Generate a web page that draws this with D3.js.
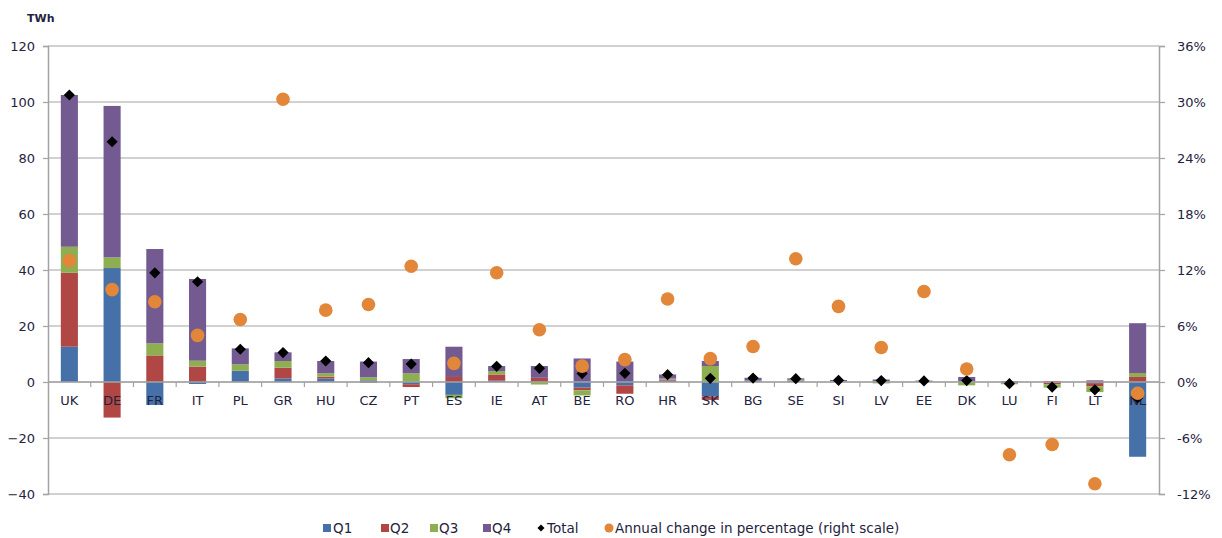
<!DOCTYPE html>
<html>
<head>
<meta charset="utf-8">
<script src="https://cdn.jsdelivr.net/npm/d3@7"></script>
<style>
  html, body { margin: 0; padding: 0; background: #ffffff; }
  svg { display: block; font-family: "DejaVu Sans", Verdana, sans-serif; }
</style>
</head>
<body>
<svg id="chart" width="1222" height="538"></svg>
<script>
// Countries along the category axis
const countries = ["UK","DE","FR","IT","PL","GR","HU","CZ","PT","ES","IE","AT","BE","RO","HR","SK","BG","SE","SI","LV","EE","DK","LU","FI","LT","NL"];

// Quarterly contributions (TWh)
const q1 = [12.6, 40.7, -8.2, -0.7, 4.0, 1.3, 1.2, 0.6, -0.8, -4.6, 0.5, 0.3, -2.0, -1.2, 0.5, -5.2, 0.3, 0.3, 0.1, 0.2, 0.1, 0.2, -0.5, -0.2, -0.4, -26.7];
const q2 = [26.4, -12.7, 9.5, 5.5, 0.0, 3.8, 0.7, -0.3, -1.0, 1.8, 2.2, 1.2, -1.0, -3.0, 0.4, -1.2, 0.0, 0.2, 0.1, 0.1, 0.1, 0.1, -0.1, -0.6, -1.2, 1.8];
const q3 = [9.3, 3.8, 4.3, 2.1, 2.3, 2.4, 1.2, 1.1, 3.1, -1.2, 1.2, -0.9, -1.8, 0.0, 0.3, 5.7, 0.2, 0.3, 0.1, -0.5, 0.1, -1.2, -0.2, -1.2, -2.0, 1.4];
const q4 = [54.2, 54.1, 33.7, 29.2, 5.7, 3.1, 4.4, 5.6, 5.1, 10.8, 1.8, 4.2, 8.4, 7.3, 1.5, 1.8, 1.0, 0.5, 0.4, 0.6, 0.2, 1.5, 0.3, 0.3, 0.6, 17.8];

// Annual totals (TWh)
const total = [102.5, 85.8, 39.0, 35.8, 11.7, 10.5, 7.5, 6.9, 6.4, 6.8, 5.6, 4.9, 3.0, 3.1, 2.6, 1.3, 1.4, 1.2, 0.6, 0.5, 0.4, 0.5, -0.6, -1.8, -2.8, -5.7];

// Annual change in percentage (right scale)
const annualPct = [13.0, 9.9, 8.6, 5.0, 6.7, 30.3, 7.7, 8.3, 12.4, 2.0, 11.7, 5.6, 1.7, 2.4, 8.9, 2.5, 3.8, 13.2, 8.1, 3.7, 9.7, 1.4, -7.8, -6.7, -10.9, -1.2];

// Axis ticks
const leftTicks = [-40, -20, 0, 20, 40, 60, 80, 100, 120];
const rightTicks = [-12, -6, 0, 6, 12, 18, 24, 30, 36];

const quarterNames = ["Q1", "Q2", "Q3", "Q4"];
const quarterColors = ["#4671a8", "#b04745", "#8eae52", "#735b92"];
const dotColor = "#e2873a";
const inkColor = "#1f2340";
const gridColor = "#a3a3a3";
const fontStack = "\"DejaVu Sans\", Verdana, sans-serif";

const svg = d3.select("#chart");

const plot = { left: 48, right: 1159, top: 46, bottom: 494 };

const x = d3.scaleBand()
  .domain(countries)
  .range([plot.left, plot.right])
  .paddingInner(0.6)
  .paddingOuter(0.3);

const xBand = d3.scaleBand()
  .domain(countries)
  .range([plot.left, plot.right]);

const y = d3.scaleLinear().domain([-40, 120]).range([plot.bottom, plot.top]);
const yRight = d3.scaleLinear().domain([-12, 36]).range([plot.bottom, plot.top]);

// Horizontal gridlines
svg.append("g")
  .selectAll("line")
  .data(leftTicks)
  .join("line")
  .attr("x1", plot.left)
  .attr("x2", plot.right)
  .attr("y1", d => y(d))
  .attr("y2", d => y(d))
  .attr("stroke", gridColor)
  .attr("stroke-width", 1.2);

// Stacked quarterly bars (positives upward, negatives downward)
const rows = countries.map((c, i) => ({ country: c, Q1: q1[i], Q2: q2[i], Q3: q3[i], Q4: q4[i] }));
const stacked = d3.stack()
  .keys(quarterNames)
  .offset(d3.stackOffsetDiverging)(rows);

svg.append("g")
  .selectAll("g")
  .data(stacked)
  .join("g")
  .attr("fill", (d, i) => quarterColors[i])
  .selectAll("rect")
  .data(d => d)
  .join("rect")
  .attr("x", d => x(d.data.country))
  .attr("width", x.bandwidth())
  .attr("y", d => y(Math.max(d[0], d[1])))
  .attr("height", d => Math.abs(y(d[0]) - y(d[1])));

// Left axis
const leftAxis = svg.append("g")
  .attr("transform", `translate(${plot.left},0)`)
  .call(d3.axisLeft(y).tickValues(leftTicks).tickSize(5).tickPadding(8).tickFormat(d3.format("d")));
leftAxis.select(".domain").attr("stroke", gridColor).attr("stroke-width", 1.5);
leftAxis.selectAll(".tick line").attr("stroke", gridColor).attr("stroke-width", 1.2);
leftAxis.selectAll(".tick text")
  .attr("fill", inkColor)
  .style("font-size", "13px")
  .style("font-family", fontStack);

// Right axis
const rightAxis = svg.append("g")
  .attr("transform", `translate(${plot.right},0)`)
  .call(d3.axisRight(yRight).tickValues(rightTicks).tickSize(6).tickPadding(12).tickFormat(d => d + "%"));
rightAxis.select(".domain").attr("stroke", gridColor).attr("stroke-width", 1.5);
rightAxis.selectAll(".tick line").attr("stroke", gridColor).attr("stroke-width", 1.2);
rightAxis.selectAll(".tick text")
  .attr("fill", inkColor)
  .style("font-size", "13px")
  .style("font-family", fontStack);

// Category axis on the zero line, tick marks between categories
const zeroY = y(0);
svg.append("line")
  .attr("x1", plot.left).attr("x2", plot.right)
  .attr("y1", zeroY).attr("y2", zeroY)
  .attr("stroke", gridColor).attr("stroke-width", 1.5);

svg.append("g")
  .selectAll("line")
  .data(countries.slice(1))
  .join("line")
  .attr("x1", d => xBand(d))
  .attr("x2", d => xBand(d))
  .attr("y1", zeroY)
  .attr("y2", zeroY + 5)
  .attr("stroke", gridColor)
  .attr("stroke-width", 1.2);

svg.append("g")
  .selectAll("text")
  .data(countries)
  .join("text")
  .attr("x", d => x(d) + x.bandwidth() / 2)
  .attr("y", zeroY + 23)
  .attr("text-anchor", "middle")
  .attr("fill", inkColor)
  .style("font-size", "13px")
  .text(d => d);

// Total markers (diamonds)
const diamond = d3.symbol().type(d3.symbolDiamond2).size(80);
svg.append("g")
  .selectAll("path")
  .data(countries)
  .join("path")
  .attr("d", diamond)
  .attr("transform", (d, i) => `translate(${x(d) + x.bandwidth() / 2},${y(total[i])})`)
  .attr("fill", "#000000");

// Annual change markers (right scale)
svg.append("g")
  .selectAll("circle")
  .data(countries)
  .join("circle")
  .attr("cx", d => x(d) + x.bandwidth() / 2)
  .attr("cy", (d, i) => yRight(annualPct[i]))
  .attr("r", 6.8)
  .attr("fill", dotColor);

// Unit label
svg.append("text")
  .attr("x", 27)
  .attr("y", 22)
  .attr("fill", inkColor)
  .style("font-size", "11px")
  .style("font-weight", "bold")
  .text("TWh");

// Legend
const legendY = 528;
const legend = svg.append("g").style("font-size", "13.5px");
const quarterSwatchX = [323, 381, 430, 483];
const quarterTextX = [333, 390, 439, 492];
quarterNames.forEach((name, i) => {
  legend.append("rect")
    .attr("x", quarterSwatchX[i])
    .attr("y", legendY - 4)
    .attr("width", 8)
    .attr("height", 8)
    .attr("fill", quarterColors[i]);
  legend.append("text")
    .attr("x", quarterTextX[i])
    .attr("y", legendY + 5)
    .attr("fill", inkColor)
    .text(name);
});
legend.append("path")
  .attr("d", d3.symbol().type(d3.symbolDiamond2).size(32))
  .attr("transform", `translate(541,${legendY})`)
  .attr("fill", "#000000");
legend.append("text")
  .attr("x", 547)
  .attr("y", legendY + 5)
  .attr("fill", inkColor)
  .text("Total");
legend.append("circle")
  .attr("cx", 609)
  .attr("cy", legendY)
  .attr("r", 4.5)
  .attr("fill", dotColor);
legend.append("text")
  .attr("x", 615)
  .attr("y", legendY + 5)
  .attr("fill", inkColor)
  .text("Annual change in percentage (right scale)");
</script>
</body>
</html>
